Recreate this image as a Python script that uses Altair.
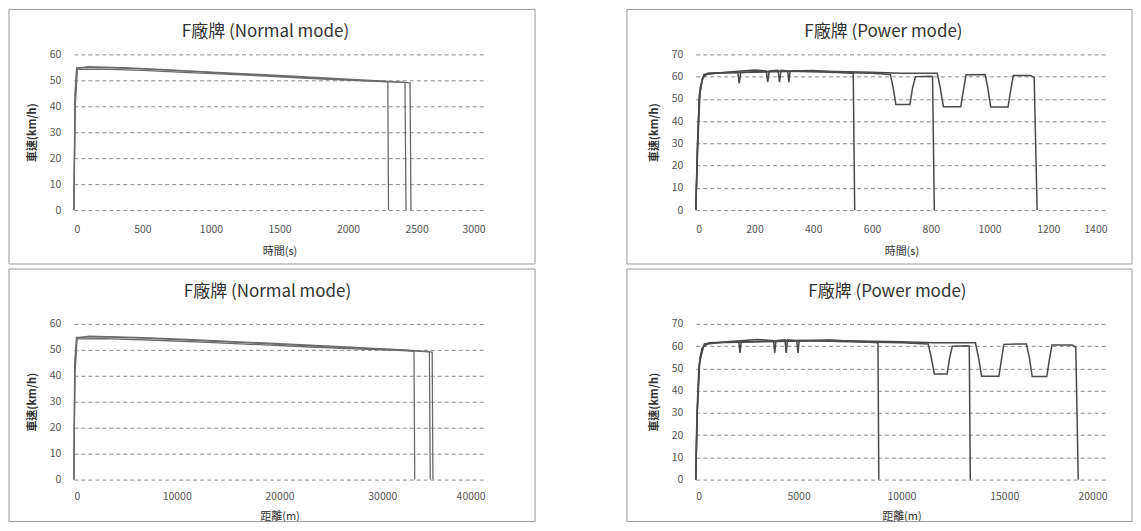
import altair as alt
import pandas as pd

FONT = "Noto Sans CJK TC"

# ---------------- Normal mode, speed vs time (s) ----------------
nt1_x = [0, 10, 25, 200, 500, 800, 1100, 1400, 1700, 2000, 2200, 2290, 2295]
nt1_v = [0, 40, 54.2, 54.3, 53.8, 53.1, 52.4, 51.6, 50.8, 50.1, 49.6, 49.4, 0]
nt2_x = [0, 8, 20, 150, 450, 750, 1050, 1350, 1650, 1950, 2250, 2415, 2423]
nt2_v = [0, 45, 54.8, 55.0, 54.5, 53.7, 52.9, 52.0, 51.1, 50.3, 49.6, 49.2, 0]
nt3_x = [0, 9, 22, 100, 400, 700, 1000, 1300, 1600, 1900, 2200, 2452, 2459]
nt3_v = [0, 42, 54.5, 55.3, 54.8, 54.0, 53.2, 52.4, 51.6, 50.7, 49.9, 49.0, 0]

# ---------------- Normal mode, speed vs distance (m) ----------------
nd1_x = [0, 100, 300, 3000, 8000, 13000, 18000, 23000, 28000, 32000, 33080, 33150]
nd1_v = [0, 40, 54.2, 54.3, 53.7, 52.9, 52.0, 51.1, 50.3, 49.7, 49.4, 0]
nd2_x = [0, 80, 250, 2500, 7500, 12500, 17500, 22500, 27500, 32000, 34580, 34660]
nd2_v = [0, 45, 54.8, 55.0, 54.4, 53.5, 52.6, 51.6, 50.7, 50.0, 49.3, 0]
nd3_x = [0, 90, 280, 1500, 6000, 11000, 16000, 21000, 26000, 31000, 34850, 34920]
nd3_v = [0, 42, 54.5, 55.3, 54.8, 54.0, 53.1, 52.2, 51.2, 50.2, 49.1, 0]

# ---------------- Power mode, speed vs time (s) ----------------
pt1_x = [0, 6, 12, 22, 35, 100, 200, 240, 245, 250, 280, 285, 290, 313, 317, 321, 400, 480, 536, 541]
pt1_v = [0, 30, 50, 59, 61, 62, 63, 62.5, 57.5, 62.5, 62.8, 57.5, 62.8, 62.5, 57.5, 62.5, 62.8, 62, 61.5, 0]
pt2_x = [0, 5, 12, 25, 40, 143, 148, 153, 300, 450, 600, 662, 672, 681, 729, 738, 748, 800, 806, 812]
pt2_v = [0, 25, 52, 60, 61.5, 62, 57, 62, 62.5, 62, 61.5, 61, 55, 47.5, 47.5, 55, 60, 60.2, 60, 0]
pt3_x = [0, 7, 15, 28, 50, 200, 400, 600, 700, 822, 832, 843, 902, 910, 920, 985, 994, 1004, 1063, 1071, 1081, 1140, 1152, 1162]
pt3_v = [0, 30, 55, 61, 61.5, 62, 62.5, 62, 61.5, 61.5, 55, 46.5, 46.5, 53, 60.8, 61, 55, 46.3, 46.3, 53, 60.5, 60.5, 59.5, 0]

# ---------------- Power mode, speed vs distance (m) ----------------
pd1_x = [0, 60, 150, 300, 550, 1500, 3000, 3780, 3840, 3900, 4340, 4400, 4460, 4910, 4970, 5030, 6500, 8000, 8860, 8900]
pd1_v = [0, 30, 50, 59, 61, 62, 63, 62.5, 57, 62.5, 62.8, 57, 62.8, 62.5, 57, 62.5, 62.8, 62, 61.5, 0]
pd2_x = [0, 50, 170, 380, 650, 2090, 2150, 2210, 5000, 7500, 10000, 11300, 11450, 11600, 12220, 12350, 12480, 13200, 13300, 13350]
pd2_v = [0, 25, 52, 60, 61.5, 62, 57, 62, 62.5, 62, 61.5, 61, 55, 47.5, 47.5, 55, 60, 60.2, 60, 0]
pd3_x = [0, 70, 200, 420, 800, 3300, 6600, 10000, 11600, 13600, 13750, 13900, 14740, 14850, 14980, 16080, 16220, 16360, 17070, 17180, 17320, 18300, 18480, 18600]
pd3_v = [0, 30, 55, 61, 61.5, 62, 62.5, 62, 61.5, 61.5, 55, 46.5, 46.5, 53, 60.8, 61, 55, 46.3, 46.3, 53, 60.5, 60.5, 59.5, 0]

TITLE_N = "F廠牌 (Normal mode)"
TITLE_P = "F廠牌 (Power mode)"
Y_TITLE = "車速(km/h)"
X_TIME = "時間(s)"
X_DIST = "距離(m)"

normal_y_ticks = [0, 10, 20, 30, 40, 50, 60]
power_y_ticks = [0, 10, 20, 30, 40, 50, 60, 70]
time_n_ticks = [0, 500, 1000, 1500, 2000, 2500, 3000]
time_p_ticks = [0, 200, 400, 600, 800, 1000, 1200, 1400]
dist_n_ticks = [0, 10000, 20000, 30000, 40000]
dist_p_ticks = [0, 5000, 10000, 15000, 20000]

W, H = 412, 156


def make_df(runs):
    rows = []
    for name, xs, vs in runs:
        for i, (x, v) in enumerate(zip(xs, vs)):
            rows.append({"x": x, "v": v, "run": name, "i": i})
    return pd.DataFrame(rows)


def panel(df, title, xtitle, xticks, yticks, frame, toff, tdx, color, sw, lpad, tpad):
    lines = alt.Chart(df).mark_line(color=color, strokeWidth=sw).encode(
        x=alt.X("x:Q",
                scale=alt.Scale(domain=[xticks[0], xticks[-1]], nice=False, zero=True),
                axis=alt.Axis(values=xticks, title=xtitle, grid=False, domain=False, ticks=False,
                              labelPadding=lpad, titlePadding=tpad, format="d",
                              labelFont=FONT, labelFontSize=10.5, labelColor="#555",
                              titleFont=FONT, titleFontSize=11, titleFontWeight="normal",
                              titleColor="#333")),
        y=alt.Y("v:Q",
                scale=alt.Scale(domain=[yticks[0], yticks[-1]], nice=False),
                axis=alt.Axis(values=yticks, title=Y_TITLE, grid=True, gridDash=[4, 3],
                              gridColor="#8a8a8a", gridWidth=1, domain=False, ticks=False,
                              labelPadding=13, titlePadding=12,
                              labelFont=FONT, labelFontSize=10.5, labelColor="#555",
                              titleFont=FONT, titleFontSize=11, titleFontWeight="bold",
                              titleColor="#333")),
        detail="run:N",
        order="i:Q",
    )
    fr = alt.Chart(pd.DataFrame({"k": [0]})).mark_rect(
        fillOpacity=0, stroke="#9a9a9a", strokeWidth=1
    ).encode(
        x=alt.value(frame[0]), x2=alt.value(frame[1]),
        y=alt.value(frame[2]), y2=alt.value(frame[3]),
    )
    return alt.layer(fr, lines).properties(
        width=W, height=H,
        title=alt.TitleParams(title, font=FONT, fontSize=17, fontWeight="normal",
                              color="#333", frame="group", anchor="middle",
                              offset=toff, dx=tdx),
    )


df_nt = make_df([("r1", nt1_x, nt1_v), ("r2", nt2_x, nt2_v), ("r3", nt3_x, nt3_v)])
df_nd = make_df([("r1", nd1_x, nd1_v), ("r2", nd2_x, nd2_v), ("r3", nd3_x, nd3_v)])
df_pt = make_df([("r1", pt1_x, pt1_v), ("r2", pt2_x, pt2_v), ("r3", pt3_x, pt3_v)])
df_pd = make_df([("r1", pd1_x, pd1_v), ("r2", pd2_x, pd2_v), ("r3", pd3_x, pd3_v)])

tl = panel(df_nt, TITLE_N, X_TIME, time_n_ticks, normal_y_ticks,
           (-65, 462, -45, 210), -32, -14, "#6b6b6b", 1.3, 14, 11)
tr = panel(df_pt, TITLE_P, X_TIME, time_p_ticks, power_y_ticks,
           (-69, 437, -45, 210), -32, -18, "#4a4a4a", 1.5, 14, 11)
bl = panel(df_nd, TITLE_N, X_DIST, dist_n_ticks, normal_y_ticks,
           (-65, 462, -55, 198), -33, -12, "#6b6b6b", 1.3, 12, 8)
br = panel(df_pd, TITLE_P, X_DIST, dist_p_ticks, power_y_ticks,
           (-69, 437, -55, 198), -33, -14, "#4a4a4a", 1.5, 12, 8)

chart = alt.concat(tl, tr, bl, br, columns=2,
                   spacing={"row": 114, "column": 211}, bounds="flush").properties(
    padding=0, background="white"
).configure_view(strokeWidth=0)

chart.save("out.html", embed_options={"renderer": "svg", "actions": False})
